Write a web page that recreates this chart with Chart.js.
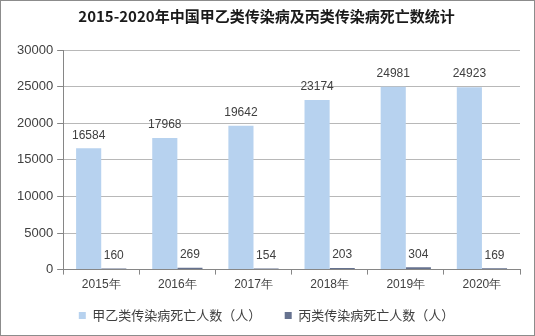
<!DOCTYPE html>
<html>
<head>
<meta charset="utf-8">
<script src="https://cdn.jsdelivr.net/npm/chart.js@4/dist/chart.umd.min.js"></script>
<style>
  html, body { margin: 0; padding: 0; background: #fff; }
  #wrap { width: 535px; height: 336px; box-sizing: border-box; border: 1px solid #8c8c8c; position: relative; }
  #chart { display: block; }
</style>
</head>
<body>
<div id="wrap"><canvas id="chart" width="533" height="334"></canvas></div>
<script>
// Chart data
const years = ['2015年', '2016年', '2017年', '2018年', '2019年', '2020年'];
const classABDeaths = [16584, 17968, 19642, 23174, 24981, 24923];
const classCDeaths = [160, 269, 154, 203, 304, 169];
const yTicks = [0, 5000, 10000, 15000, 20000, 25000, 30000];

// Draws the value above each bar
const valueLabels = {
    id: 'valueLabels',
    afterDatasetsDraw(chart) {
        const ctx = chart.ctx;
        ctx.save();
        ctx.font = '12px "Liberation Sans", Arial, sans-serif';
        ctx.fillStyle = '#404040';
        ctx.textAlign = 'center';
        ctx.textBaseline = 'bottom';
        chart.data.datasets.forEach((ds, i) => {
            chart.getDatasetMeta(i).data.forEach((bar, j) => {
                ctx.fillText(ds.data[j], bar.x, bar.y - 7);
            });
        });
        ctx.restore();
    }
};

const ctx = document.getElementById('chart').getContext('2d');
new Chart(ctx, {
    type: 'bar',
    data: {
        labels: years,
        datasets: [
            {
                label: '甲乙类传染病死亡人数（人）',
                data: classABDeaths,
                backgroundColor: '#b7d2ef',
                categoryPercentage: 0.66,
                barPercentage: 1.0
            },
            {
                label: '丙类传染病死亡人数（人）',
                data: classCDeaths,
                backgroundColor: '#66728f',
                categoryPercentage: 0.66,
                barPercentage: 1.0
            }
        ]
    },
    options: {
        responsive: false,
        animation: false,
        layout: { padding: { left: 12, right: 14, top: 0, bottom: 3 } },
        plugins: {
            title: {
                display: true,
                text: '2015-2020年中国甲乙类传染病及丙类传染病死亡数统计',
                font: { family: '"Noto Sans CJK SC", sans-serif', size: 15, weight: 'bold' },
                color: '#1a1a1a',
                padding: { top: 6, bottom: 25 }
            },
            legend: {
                position: 'bottom',
                labels: {
                    boxWidth: 7,
                    boxHeight: 7,
                    padding: 14,
                    color: '#404040',
                    font: { family: '"Noto Sans CJK SC", sans-serif', size: 13 },
                    generateLabels(chart) {
                        const items = Chart.defaults.plugins.legend.labels.generateLabels(chart);
                        // widen the gap between the two legend entries
                        items[0].text = items[0].text + '\u3000 ';
                        return items;
                    }
                }
            },
            tooltip: { enabled: false }
        },
        scales: {
            x: {
                grid: { drawOnChartArea: false, drawTicks: true, tickLength: 5, color: '#868686' },
                border: { color: '#868686' },
                ticks: {
                    color: '#404040',
                    font: { family: '"Liberation Sans", Arial, sans-serif', size: 12 },
                    padding: 3
                }
            },
            y: {
                min: 0,
                max: 30000,
                afterBuildTicks(axis) {
                    axis.ticks = yTicks.map(v => ({ value: v }));
                },
                grid: { color: '#b8b8b8', tickLength: 6, tickColor: '#868686' },
                border: { color: '#868686' },
                ticks: {
                    color: '#404040',
                    font: { family: '"Liberation Sans", Arial, sans-serif', size: 13 },
                    padding: 4,
                    callback: v => String(v)
                }
            }
        }
    },
    plugins: [valueLabels]
});
</script>
</body>
</html>
